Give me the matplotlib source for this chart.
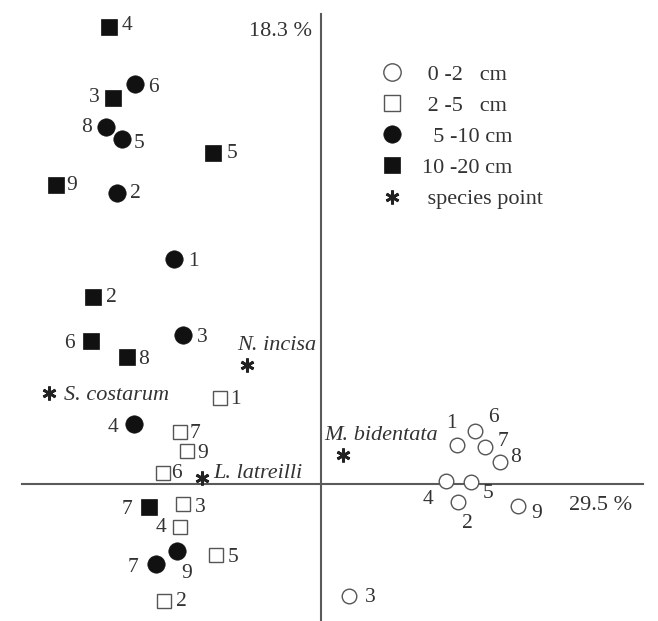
import matplotlib
matplotlib.use("Agg")
import matplotlib.pyplot as plt
from matplotlib.lines import Line2D

# ---- data (ordination scores) ----
labels_10_20 = ["4", "3", "5", "9", "2", "6", "8", "7"]
x_10_20 = [-2.12, -2.08, -1.08, -2.65, -2.28, -2.30, -1.94, -1.72]
y_10_20 = [4.57, 3.86, 3.31, 2.99, 1.87, 1.43, 1.27, -0.23]

labels_5_10 = ["6", "8", "5", "2", "1", "3", "4", "9", "7"]
x_5_10 = [-1.86, -2.15, -1.99, -2.04, -1.47, -1.38, -1.87, -1.44, -1.65]
y_5_10 = [4.00, 3.57, 3.45, 2.91, 2.25, 1.49, 0.60, -0.67, -0.80]

labels_2_5 = ["1", "7", "9", "6", "3", "4", "5", "2"]
x_2_5 = [-1.01, -1.41, -1.34, -1.58, -1.38, -1.41, -1.05, -1.57]
y_2_5 = [0.86, 0.52, 0.33, 0.11, -0.20, -0.43, -0.71, -1.17]

labels_0_2 = ["1", "6", "7", "8", "4", "5", "2", "9", "3"]
x_0_2 = [1.36, 1.54, 1.64, 1.79, 1.25, 1.50, 1.37, 1.97, 0.28]
y_0_2 = [0.39, 0.53, 0.37, 0.22, 0.03, 0.02, -0.18, -0.22, -1.12]

species = ["N. incisa", "S. costarum", "L. latreilli", "M. bidentata"]
x_sp = [-0.74, -2.72, -1.19, 0.22]
y_sp = [1.19, 0.91, 0.06, 0.29]

axis1_label = "29.5 %"
axis2_label = "18.3 %"
legend_labels = [" 0 -2   cm", " 2 -5   cm", "  5 -10 cm", "10 -20 cm", " species point"]

# ---- label offsets (pixels) : style only ----
off_10_20 = [(18, 1), (-19, 0), (19, 0), (16, 0), (18, 0), (-22, -2), (17, -2), (-22, -3)]
off_5_10 = [(18, -3), (-19, -1), (17, -4), (18, -1), (19, -2), (19, -2), (-21, -4), (10, -22), (-23, -3)]
off_2_5 = [(15, -2), (15, -1), (16, -2), (13, 0), (17, -3), (-19, -1), (17, -2), (17, -1)]
off_0_2 = [(-6, 22), (18, 13), (18, 6), (16, 4), (-18, -19), (17, -12), (9, -21), (19, -7), (21, -2)]
off_sp = [(30, 20, "center"), (15, -2, "left"), (11, 4, "left"), (38, 19, "center")]

plt.rcParams["font.family"] = ["Liberation Serif", "DejaVu Serif"]
TXT = "#333333"
FS = 16
FSN = 15.5

fig = plt.figure(figsize=(6.58, 6.21), dpi=100)
ax = fig.add_axes([0, 0, 1, 1])
ax.set_xlim(-3.21, 3.37)
ax.set_ylim(-1.37, 4.84)
ax.axis("off")

# axes lines
ax.plot([-2.99, 3.22], [0, 0], color="#5a5a5a", lw=1.5, zorder=1)
ax.plot([0, 0], [-1.37, 4.70], color="#5a5a5a", lw=1.5, zorder=1)

ax.text(-0.09, 4.52, axis2_label, ha="right", va="center", fontsize=FS, color=TXT)
ax.text(2.80, -0.21, axis1_label, ha="center", va="center", fontsize=FS, color=TXT)

ms_fc = 12.5
ms_fs = 11
ms_oc = 10.5
ms_os = 10

ax.plot(x_0_2, y_0_2, ls="none", marker="o", ms=ms_oc, mfc="white", mec="#555555", mew=1.0, zorder=3)
ax.plot(x_2_5, y_2_5, ls="none", marker="s", ms=ms_os, mfc="white", mec="#555555", mew=1.0, zorder=3)
ax.plot(x_5_10, y_5_10, ls="none", marker="o", ms=ms_fc, mfc="#111111", mec="#111111", mew=0.5, zorder=3)
ax.plot(x_10_20, y_10_20, ls="none", marker="s", ms=ms_fs, mfc="#111111", mec="#111111", mew=0.5, zorder=3)
ax.plot(x_sp, y_sp, ls="none", marker=(6, 2, 0), ms=10, mec="#222222", mew=2.0, zorder=3)

def put_labels(xs, ys, labs, offs):
    for x, y, t, (dx, dy) in zip(xs, ys, labs, offs):
        ax.annotate(t, (x, y), xytext=(dx, dy), textcoords="offset pixels",
                    ha="center", va="center", fontsize=FSN, color=TXT)

put_labels(x_10_20, y_10_20, labels_10_20, off_10_20)
put_labels(x_5_10, y_5_10, labels_5_10, off_5_10)
put_labels(x_2_5, y_2_5, labels_2_5, off_2_5)
put_labels(x_0_2, y_0_2, labels_0_2, off_0_2)

for x, y, t, (dx, dy, ha) in zip(x_sp, y_sp, species, off_sp):
    ax.annotate(t, (x, y), xytext=(dx, dy), textcoords="offset pixels",
                ha=ha, va="center", fontsize=FS, color=TXT, style="italic")

handles = [
    Line2D([], [], ls="none", marker="o", ms=12.5, mfc="white", mec="#555555", mew=1.0),
    Line2D([], [], ls="none", marker="s", ms=11.5, mfc="white", mec="#555555", mew=1.0),
    Line2D([], [], ls="none", marker="o", ms=12.5, mfc="#111111", mec="#111111", mew=0.5),
    Line2D([], [], ls="none", marker="s", ms=11, mfc="#111111", mec="#111111", mew=0.5),
    Line2D([], [], ls="none", marker=(6, 2, 0), ms=10, mec="#222222", mew=2.0),
]
leg = ax.legend(handles, legend_labels, loc="upper left",
                bbox_to_anchor=(370 / 658, 1 - 64 / 621), frameon=False,
                fontsize=FS, handlelength=2.0, handletextpad=0.36,
                labelspacing=0.48, borderpad=0, borderaxespad=0)
for t in leg.get_texts():
    t.set_color(TXT)

fig.savefig("out.png", dpi=100)
